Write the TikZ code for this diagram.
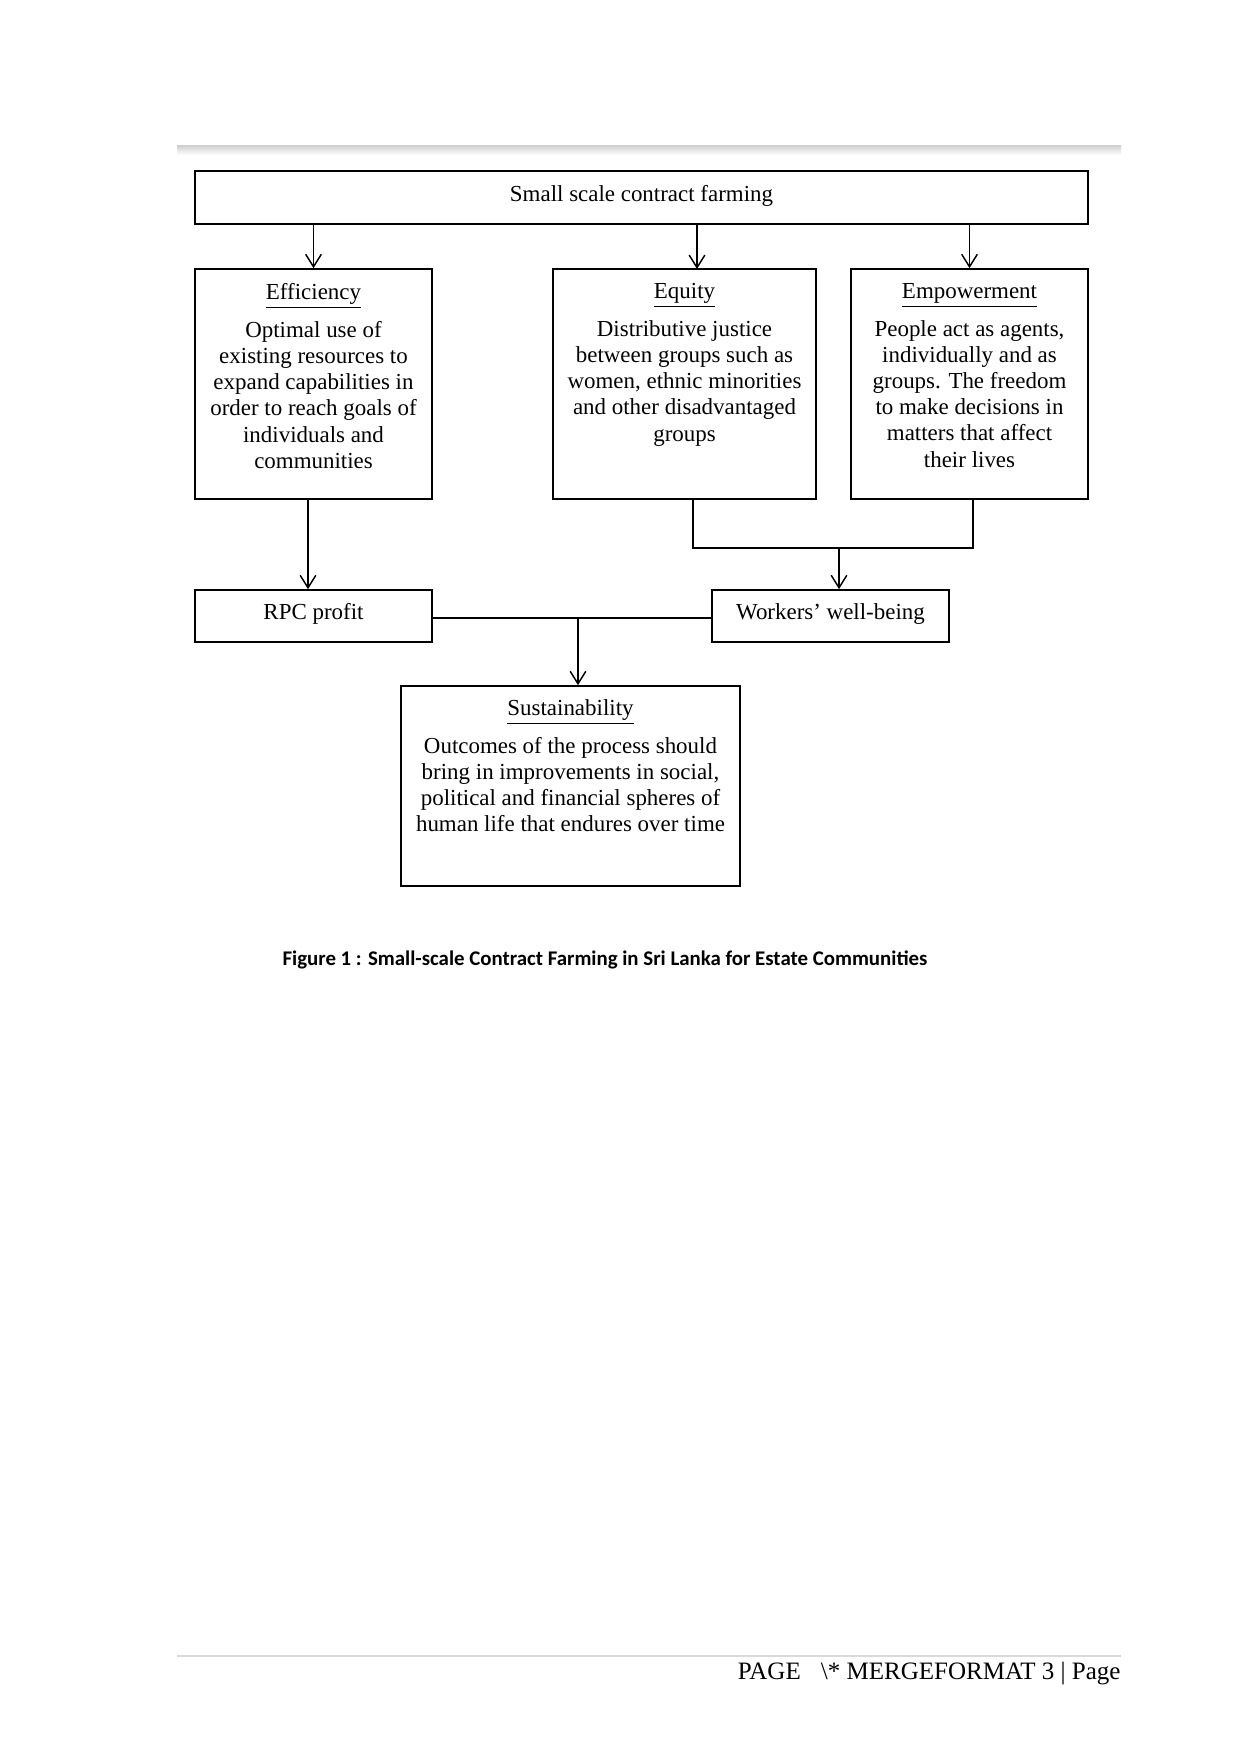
\documentclass[tikz,border=0pt]{standalone}
\usepackage{fontspec}
\setmainfont{Liberation Serif}
\newfontfamily\capfont{Carlito}
\usetikzlibrary{arrows.meta,positioning,fit,calc}
\definecolor{rulegray}{HTML}{DADADA}

\begin{document}
\begin{tikzpicture}[x=0.4795pt, y=-0.4795pt, every node/.style={font=\fontsize{11}{12.55}\selectfont},
  box/.style={draw, line width=0.8pt, inner sep=0pt},
  boxtext/.style={align=center, inner sep=0pt, anchor=north},
  arr/.style={-{Straight Barb[length=6pt,width=7.5pt]}, line width=0.7pt},
  link/.style={line width=0.7pt}]
\fill[white] (0,0) rectangle (1241,1754);
\useasboundingbox (0,0) rectangle (1241,1754);
% page rules
\shade[top color=gray!35, bottom color=white] (177,146) rectangle (1121,155);
\draw[rulegray, line width=0.5pt] (177,1656) -- (1121,1656);
% boxes
\node[box, fit={(195,171) (1088,224)}] (farm) {};
\node[box, fit={(195,269) (432,499)}] (eff) {};
\node[box, fit={(553,269) (816,499)}] (equ) {};
\node[box, fit={(851,269) (1088,499)}] (emp) {};
\node[box, fit={(195,590) (432,642)}] (rpc) {};
\node[box, fit={(712,590) (949,642)}] (well) {};
\node[box, fit={(401,686) (740,886)}] (sust) {};
% box texts
\node (farmtxt) at ($(farm.center)+(0,-2)$) {Small scale contract farming};
\node (rpctxt) at ($(rpc.center)+(0,-2)$) {RPC profit};
\node (welltxt) at ($(well.center)+(0,-2)$) {Workers’ well-being};
\node[boxtext] (efftxt) at (313.5,283) {\underline{Efficiency}\\[5.6pt]Optimal use of\\existing resources to\\expand capabilities in\\order to reach goals of\\individuals and\\communities};
\node[boxtext] (equtxt) at (684.5,283) {\underline{Equity}\\[5.6pt]Distributive justice\\between groups such as\\women, ethnic minorities\\and other disadvantaged\\groups};
\node[boxtext] (emptxt) at (969.5,283) {\underline{Empowerment}\\[5.6pt]People act as agents,\\individually and as\\groups. The freedom\\to make decisions in\\matters that affect\\their lives};
\node[boxtext] (susttxt) at (570.5,699) {\underline{Sustainability}\\[5.6pt]Outcomes of the process should\\bring in improvements in social,\\political and financial spheres of\\human life that endures over time};
% connectors
\coordinate (equin) at (697,269);
\coordinate (effout) at (308,499);
\coordinate (equout) at (693,499);
\coordinate (empout) at (973,499);
\coordinate (join) at (839,548);
\coordinate (merge) at (578,618);
\draw[arr] (farm.south -| eff.north) -- (eff.north);
\draw[arr] (farm.south -| equin) -- (equin);
\draw[arr] (farm.south -| emp.north) -- (emp.north);
\draw[arr] (effout) -- (effout |- rpc.north);
\draw[link] (equout) |- (empout |- join) -- (empout);
\draw[arr] (join) -- (join |- well.north);
\draw[link] (rpc.east |- merge) -- (well.west |- merge);
\draw[arr] (merge) -- (merge |- sust.north);
% caption and footer
\node[font=\capfont\bfseries\fontsize{10}{12}\selectfont] (caption) at (605,960) {Figure 1 : Small-scale Contract Farming in Sri Lanka for Estate Communities};
\node[anchor=east, inner sep=0pt, font=\fontsize{12}{14}\selectfont] (pagefoot) at (1121,1673) {PAGE\hspace{0.8em}\textbackslash* MERGEFORMAT 3 | Page};
\end{tikzpicture}
\end{document}
